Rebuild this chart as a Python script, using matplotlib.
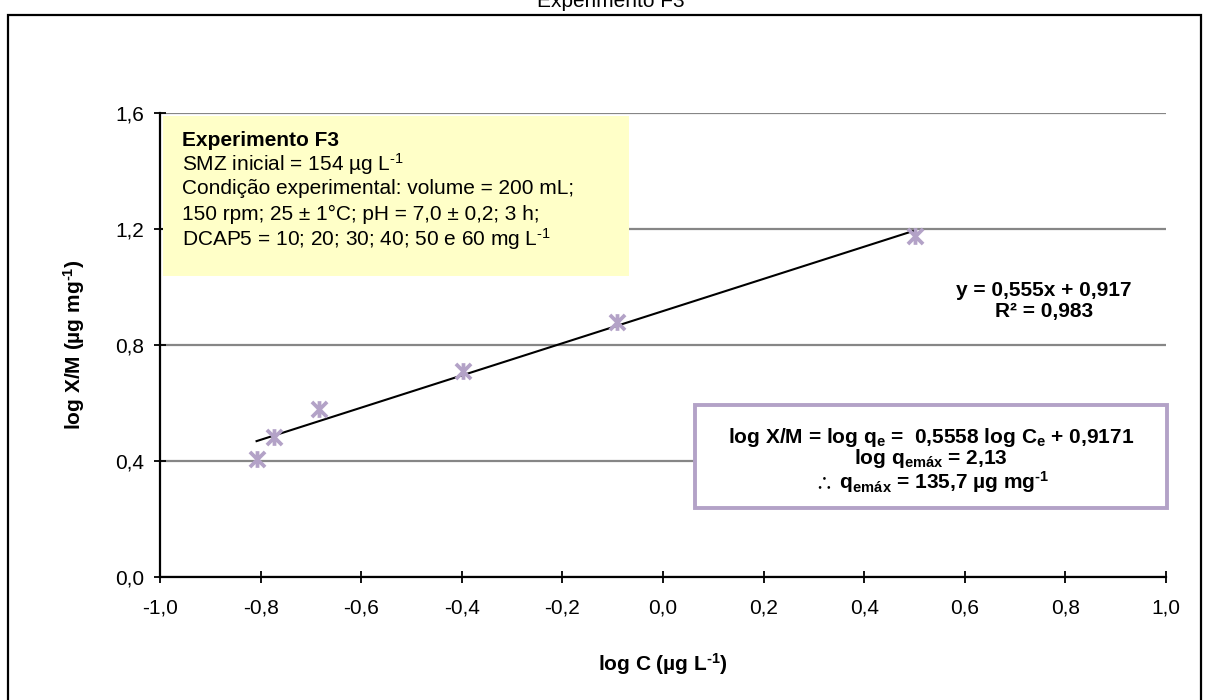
import matplotlib
matplotlib.use("Agg")
import matplotlib.pyplot as plt
from matplotlib.path import Path
from matplotlib.patches import Rectangle
import numpy as np

# Freundlich isotherm data (log-transformed)
log_c = [-0.808, -0.773, -0.684, -0.398, -0.092, 0.500]
log_xm = [0.406, 0.484, 0.578, 0.710, 0.880, 1.175]

# Linear fit reported on the chart
slope = 0.555
intercept = 0.917
r_squared = 0.983

x_ticks = [-1.0, -0.8, -0.6, -0.4, -0.2, 0.0, 0.2, 0.4, 0.6, 0.8, 1.0]
y_ticks = [0.0, 0.4, 0.8, 1.2, 1.6]

title = "Experimento F3"
x_label = "log C (µg L$^{‐1}$)"
y_label = "log X/M (µg mg$^{‐1}$)"

info_title = "Experimento F3"
info_lines = [
    "SMZ inicial = 154 µg L$^{‐1}$",
    "Condição experimental: volume = 200 mL;",
    "150 rpm; 25 ± 1°C; pH = 7,0 ± 0,2; 3 h;",
    "DCAP5 = 10; 20; 30; 40; 50 e 60 mg L$^{‐1}$",
]
result_lines = [
    "log X/M = log q$_e$ =  0,5558 log C$_e$ + 0,9171",
    "log q$_{emáx}$ = 2,13",
    "$\\therefore$ q$_{emáx}$ = 135,7 µg mg$^{‐1}$",
]

plt.rcParams["font.family"] = ["Liberation Sans", "DejaVu Sans"]
plt.rcParams["mathtext.fontset"] = "custom"
plt.rcParams["mathtext.rm"] = "Liberation Sans"
plt.rcParams["mathtext.default"] = "regular"
plt.rcParams["mathtext.fallback"] = "stixsans"

W, H = 1209, 700
fig = plt.figure(figsize=(W / 100, H / 100), dpi=100)


def fx(px):
    return px / W


def fy(py):
    return 1 - py / H


ax = fig.add_axes([fx(160), fy(577), fx(1166) - fx(160), fy(113) - fy(577)])

purple = "#B3A2C7"
fs = 15

# Outer chart frame
fig.add_artist(Rectangle((fx(8), fy(712)), fx(1201) - fx(8), fy(15) - fy(712),
                         transform=fig.transFigure, fill=False,
                         edgecolor="black", linewidth=1.6, clip_on=False))

fig.text(fx(611), fy(7), title, ha="center", va="baseline", fontsize=fs)

ax.set_xlim(x_ticks[0], x_ticks[-1])
ax.set_ylim(y_ticks[0], y_ticks[-1])
ax.set_xticks(x_ticks)
ax.set_yticks(y_ticks)
ax.set_xticklabels([f"{v:.1f}".replace(".", ",") for v in x_ticks], fontsize=fs)
ax.set_yticklabels([f"{v:.1f}".replace(".", ",") for v in y_ticks], fontsize=fs)
ax.tick_params(direction="inout", length=9, width=1.3, color="black", pad=11)
ax.tick_params(axis="y", pad=7)

for side in ("top", "right"):
    ax.spines[side].set_visible(False)
for side in ("left", "bottom"):
    ax.spines[side].set_linewidth(1.6)
    ax.spines[side].set_color("black")

ax.set_axisbelow(True)
ax.yaxis.grid(True, color="#868686", linewidth=1.6)

ax.set_xlabel(x_label, fontsize=fs, fontweight="bold", labelpad=24)
ax.set_ylabel(y_label, fontsize=fs, fontweight="bold", labelpad=20)

# Information panel
ax.add_patch(Rectangle((fx(163), fy(276)), fx(629) - fx(163), fy(116) - fy(276),
                       transform=fig.transFigure, facecolor="#FFFFC8",
                       edgecolor="none", zorder=1, clip_on=False))
line_y = [140, 164, 189, 214, 239]
fig.text(fx(182), fy(line_y[0]), info_title, ha="left", va="center",
         fontsize=fs, fontweight="bold", zorder=5)
for yy, txt in zip(line_y[1:], info_lines):
    fig.text(fx(182), fy(yy), txt, ha="left", va="center", fontsize=fs, zorder=5)

# Result panel
ax.add_patch(Rectangle((fx(695), fy(508)), fx(1167) - fx(695), fy(405) - fy(508),
                       transform=fig.transFigure, facecolor="white",
                       edgecolor=purple, linewidth=2.8, zorder=1, clip_on=False))
for yy, txt in zip([437, 459, 482], result_lines):
    fig.text(fx(931), fy(yy), txt, ha="center", va="center", fontsize=fs,
             fontweight="bold", zorder=5)

# Trend line from the reported fit
xs = np.array([min(log_c), max(log_c)])
ax.plot(xs, slope * xs + intercept, color="black", linewidth=1.5, zorder=3)

# Star markers (X with vertical bar)
star = Path([(-1, -1), (1, 1), (-1, 1), (1, -1), (0, -1.1), (0, 1.1)],
            [Path.MOVETO, Path.LINETO, Path.MOVETO, Path.LINETO,
             Path.MOVETO, Path.LINETO])
ax.plot(log_c, log_xm, linestyle="none", marker=star, markersize=12,
        markeredgewidth=2.7, color=purple, zorder=4, clip_on=False)

eq_text = f"y = {slope:.3f}x + {intercept:.3f}".replace(".", ",")
r2_text = f"R² = {r_squared:.3f}".replace(".", ",")
fig.text(fx(1044), fy(291), eq_text, ha="center", va="center", fontsize=fs,
         fontweight="bold")
fig.text(fx(1044), fy(312), r2_text, ha="center", va="center", fontsize=fs,
         fontweight="bold")

fig.savefig("out.png", dpi=100)
